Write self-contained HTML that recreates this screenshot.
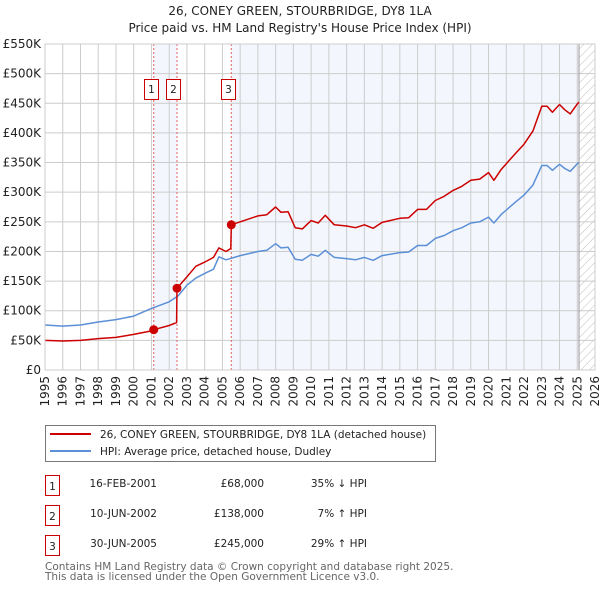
<!DOCTYPE html>
<html><head><meta charset="utf-8"><style>
body{margin:0;background:#fff;}
svg{display:block;font-family:"DejaVu Sans","Liberation Sans",sans-serif;}
</style></head><body>
<svg id="chart" width="600" height="590" xmlns="http://www.w3.org/2000/svg">
<defs>
<pattern id="hatch" width="6" height="6" patternUnits="userSpaceOnUse" patternTransform="rotate(45)">
<line x1="0" y1="0" x2="0" y2="6" stroke="#bbb" stroke-width="1"/></pattern>
</defs>
<text x="300" y="15" text-anchor="middle" font-size="12" fill="#222">26, CONEY GREEN, STOURBRIDGE, DY8 1LA</text>
<text x="300" y="32" text-anchor="middle" font-size="12" fill="#222">Price paid vs. HM Land Registry's House Price Index (HPI)</text>
<g id="plot"></g>
<g>
<rect x="45.5" y="425.5" width="390" height="36" fill="#fff" stroke="#777"/>
<line x1="50" y1="434" x2="91" y2="434" stroke="#cc0000" stroke-width="2"/>
<text x="100" y="438" font-size="10.5" fill="#222">26, CONEY GREEN, STOURBRIDGE, DY8 1LA (detached house)</text>
<line x1="50" y1="451" x2="91" y2="451" stroke="#5b8fd6" stroke-width="2"/>
<text x="100" y="455" font-size="10.5" fill="#222">HPI: Average price, detached house, Dudley</text>
</g>
<g font-size="10.5" fill="#222">
<rect x="45.5" y="475.5" width="14" height="20" fill="#fff" stroke="#cc0000"/><text x="52.5" y="490" text-anchor="middle">1</text>
<text x="157" y="487" text-anchor="end">16-FEB-2001</text><text x="264" y="487" text-anchor="end">£68,000</text><text x="367" y="487" text-anchor="end">35% ↓ HPI</text>
<rect x="45.5" y="505.5" width="14" height="20" fill="#fff" stroke="#cc0000"/><text x="52.5" y="520" text-anchor="middle">2</text>
<text x="157" y="517" text-anchor="end">10-JUN-2002</text><text x="264" y="517" text-anchor="end">£138,000</text><text x="367" y="517" text-anchor="end">7% ↑ HPI</text>
<rect x="45.5" y="535.5" width="14" height="20" fill="#fff" stroke="#cc0000"/><text x="52.5" y="550" text-anchor="middle">3</text>
<text x="157" y="547" text-anchor="end">30-JUN-2005</text><text x="264" y="547" text-anchor="end">£245,000</text><text x="367" y="547" text-anchor="end">29% ↑ HPI</text>
</g>
<text x="45" y="570" font-size="10.5" fill="#666">Contains HM Land Registry data © Crown copyright and database right 2025.</text>
<text x="45" y="580" font-size="10.5" fill="#666">This data is licensed under the Open Government Licence v3.0.</text>
</svg>
<script>
const hpiDates=[1995,1996,1997,1998,1999,2000,2001,2002,2002.5,2003,2003.5,2004,2004.5,2004.8,2005.2,2006,2007,2007.5,2008,2008.3,2008.7,2009.1,2009.5,2010,2010.4,2010.8,2011.3,2012,2012.5,2013,2013.5,2014,2015,2015.5,2016,2016.5,2017,2017.5,2018,2018.5,2019,2019.5,2020,2020.3,2020.7,2021,2021.5,2022,2022.5,2023,2023.3,2023.6,2024,2024.3,2024.6,2025,2025.1];
const hpiValues=[76,74,76,81,85,91,104,115,125,143,155,163,170,191,186,193,200,202,213,206,207,187,185,195,192,202,190,188,186,190,185,193,198,199,210,210,222,227,235,240,248,250,258,248,262,270,283,295,312,345,345,337,347,340,335,348,350];
const propDates=[1995,1996,1997,1998,1999,2000,2001,2001.13,2002,2002.42,2002.44,2003,2003.5,2004,2004.5,2004.8,2005.2,2005.47,2005.5,2006,2007,2007.5,2008,2008.3,2008.7,2009.1,2009.5,2010,2010.4,2010.8,2011.3,2012,2012.5,2013,2013.5,2014,2015,2015.5,2016,2016.5,2017,2017.5,2018,2018.5,2019,2019.5,2020,2020.3,2020.7,2021,2021.5,2022,2022.5,2023,2023.3,2023.6,2024,2024.3,2024.6,2025,2025.1];
const propValues=[50,49,50,53,55,60,66,68,75,80,138,157,175,182,190,206,200,205,245,250,260,262,275,266,267,240,238,252,248,261,245,243,240,245,239,249,256,257,271,271,286,293,303,310,320,322,333,320,338,348,365,381,403,445,445,435,448,439,432,449,452];
const saleDates=[2001.13,2002.44,2005.5];
const salePrices=[68,138,245];
const saleLabels=["1","2","3"];
const yTicks=[0,50,100,150,200,250,300,350,400,450,500,550];
const yTickLabels=["£0","£50K","£100K","£150K","£200K","£250K","£300K","£350K","£400K","£450K","£500K","£550K"];
const xTicks=[1995,1996,1997,1998,1999,2000,2001,2002,2003,2004,2005,2006,2007,2008,2009,2010,2011,2012,2013,2014,2015,2016,2017,2018,2019,2020,2021,2022,2023,2024,2025,2026];

const L=45,R=595,T=44,B=370,x0=1995,x1=2026,ymax=550,dataEnd=2025.1;
const xs=d=>L+(d-x0)/(x1-x0)*(R-L);
const ys=v=>B-v/ymax*(B-T);
const NS="http://www.w3.org/2000/svg";
const g=document.getElementById('plot');
function mk(tag,attrs,parent){const e=document.createElementNS(NS,tag);for(const k in attrs)e.setAttribute(k,attrs[k]);(parent||g).appendChild(e);return e;}
let e;
e=mk('rect',{x:xs(saleDates[0]),y:T,width:xs(saleDates[1])-xs(saleDates[0]),height:B-T,fill:'#eef3fc',opacity:0.7});


e=mk('rect',{x:xs(saleDates[2]),y:T,width:xs(dataEnd)-xs(saleDates[2]),height:B-T,fill:'#eef3fc',opacity:0.7});


e=mk('rect',{x:xs(dataEnd),y:T,width:R-xs(dataEnd),height:B-T,fill:'url(#hatch)'});


yTicks.forEach((v,i)=>{
 e=mk('line',{x1:L,x2:R,y1:ys(v),y2:ys(v),stroke:'#ccc','stroke-width':1});
 
 
 e=mk('text',{x:L-4,y:ys(v)+4,'text-anchor':'end','font-size':12,fill:'#222'});
 e.textContent=yTickLabels[i];
 
 
});
xTicks.forEach(d=>{
 e=mk('line',{x1:xs(d),x2:xs(d),y1:T,y2:B,stroke:'#ccc','stroke-width':1});
 
 
 e=mk('text',{x:0,y:0,'text-anchor':'end','font-size':12,fill:'#222',transform:`translate(${xs(d)+4},${B+6}) rotate(-90)`});
 e.textContent=d;
 
 
});
e=mk('line',{x1:xs(dataEnd),x2:xs(dataEnd),y1:T,y2:B,stroke:'#999','stroke-width':1});


const boxOff=[10,11,10];
saleDates.forEach((d,i)=>{
 e=mk('line',{x1:xs(d),x2:xs(d),y1:T,y2:B,stroke:'#e06060','stroke-width':1,'stroke-dasharray':'2,2'});
 
 
 const bx=Math.round(xs(d)-boxOff[i])+0.5;
 e=mk('rect',{x:bx,y:79.5,width:14,height:20,fill:'#fff',stroke:'#cc0000'});
 
 
 e=mk('text',{x:bx+7,y:93,'text-anchor':'middle','font-size':10.5,fill:'#222'});
 e.textContent=saleLabels[i];
 
 
});
function line(ds,vs,color,name){
 const p=ds.map((d,i)=>(i?'L':'M')+xs(d).toFixed(1)+','+ys(vs[i]).toFixed(1)).join('');
 const el=mk('path',{d:p,fill:'none',stroke:color,'stroke-width':1.5,'stroke-linejoin':'round'});
 
 
}
line(hpiDates,hpiValues,'#5b8fd6','hpi-line');
line(propDates,propValues,'#cc0000','property-line');
saleDates.forEach((d,i)=>{
 const c=mk('circle',{cx:xs(d),cy:ys(salePrices[i]),r:4.5,fill:'#cc0000'});
 
 
});
e=mk('rect',{x:L,y:T,width:R-L,height:B-T,fill:'none',stroke:'#ccc'});


</script>
</body></html>
